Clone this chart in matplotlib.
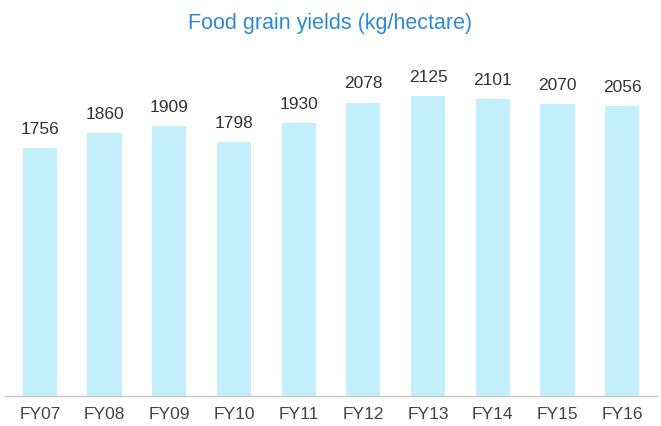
import numpy as np
import matplotlib.pyplot as plt

plt.rcParams['font.family'] = ['Liberation Sans', 'DejaVu Sans']

years = ["FY07", "FY08", "FY09", "FY10", "FY11", "FY12", "FY13", "FY14", "FY15", "FY16"]
yields = [1756, 1860, 1909, 1798, 1930, 2078, 2125, 2101, 2070, 2056]

fig = plt.figure(figsize=(6.61, 4.26), dpi=100)
ax = fig.add_axes([5 / 661, 30 / 426, 652 / 661, 336 / 426])

x = np.arange(len(years))
bars = ax.bar(x, yields, width=0.53, color="#c2effb")

for xi, v in zip(x, yields):
    ax.annotate(str(v), (xi, v), xytext=(0, 8), textcoords="offset points",
                ha="center", va="bottom", fontsize=12.5, color="#333333")

ax.set_xlim(-0.54, len(years) - 0.46)
ax.set_ylim(0, 2379)
ax.set_xticks(x)
ax.set_xticklabels(years, fontsize=12.5, color="#444444")
ax.tick_params(axis="x", length=0, pad=8)
ax.set_yticks([])
for s in ["top", "right", "left"]:
    ax.spines[s].set_visible(False)
ax.spines["bottom"].set_color("#c8c8c8")
ax.spines["bottom"].set_linewidth(1)

fig.text(0.5, 1 - 24 / 426, "Food grain yields (kg/hectare)", ha="center", va="center",
         fontsize=15.5, color="#2e8bcf")

fig.savefig("out.png", dpi=100)
